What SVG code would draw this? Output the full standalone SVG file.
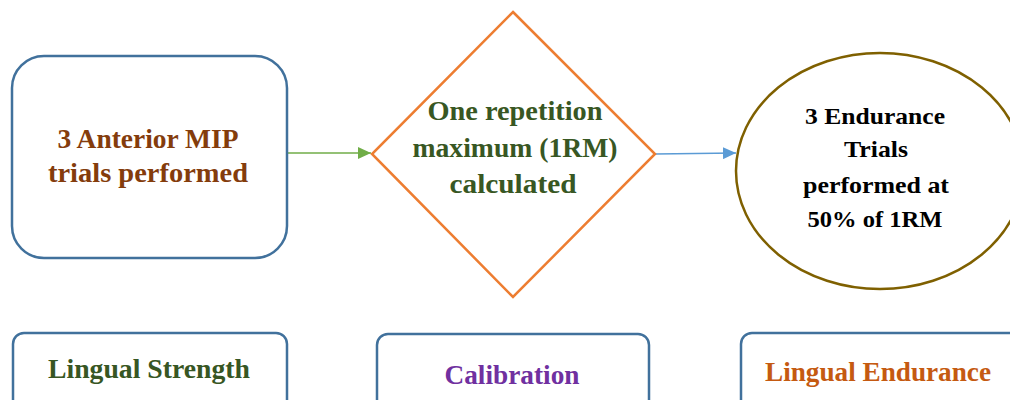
<svg xmlns="http://www.w3.org/2000/svg" width="1010" height="400" viewBox="0 0 1010 400">
<style>
text{font-family:"Liberation Serif","DejaVu Serif",serif;font-weight:bold;text-anchor:middle}
.box{fill:#fff;stroke:#41719C;stroke-width:2.5}
.t1{font-size:28px;fill:#843C0C}
.t2{font-size:27px;fill:#385723}
.t3{font-size:24px;fill:#000}
.b{font-size:28px}
.conn{fill:none;stroke-width:1.5}
</style>
<defs>
<marker id="ag" viewBox="0 0 10 10" refX="10" refY="5" markerWidth="13" markerHeight="12" markerUnits="userSpaceOnUse" orient="auto" preserveAspectRatio="none"><path d="M0,0L10,5L0,10z" fill="#70AD47"/></marker>
<marker id="ab" viewBox="0 0 10 10" refX="10" refY="5" markerWidth="13" markerHeight="12" markerUnits="userSpaceOnUse" orient="auto" preserveAspectRatio="none"><path d="M0,0L10,5L0,10z" fill="#5B9BD5"/></marker>
</defs>
<rect width="1010" height="400" fill="#fff"/>
<g id="connectors">
<line class="conn" x1="288" y1="153" x2="371" y2="153" stroke="#70AD47" marker-end="url(#ag)"/>
<line class="conn" x1="655" y1="154" x2="736" y2="153" stroke="#5B9BD5" marker-end="url(#ab)"/>
</g>
<g id="node-mip">
<rect class="box" x="12" y="56" width="275" height="202" rx="32"/>
<text class="t1" x="148" y="148" textLength="181" lengthAdjust="spacingAndGlyphs">3 Anterior MIP</text>
<text class="t1" x="148" y="182" textLength="200" lengthAdjust="spacingAndGlyphs">trials performed</text>
</g>
<g id="node-1rm">
<polygon points="513,12 655,154 513,297 372,154" fill="#fff" stroke="#ED7D31" stroke-width="2.5"/>
<text class="t2" x="515" y="120" textLength="175" lengthAdjust="spacingAndGlyphs">One repetition</text>
<text class="t2" x="515" y="157" textLength="205" lengthAdjust="spacingAndGlyphs">maximum (1RM)</text>
<text class="t2" x="513" y="193" textLength="127" lengthAdjust="spacingAndGlyphs">calculated</text>
</g>
<g id="node-endurance">
<ellipse cx="880" cy="171" rx="144" ry="118" fill="#fff" stroke="#7F6000" stroke-width="2.5"/>
<text class="t3" x="875" y="124" textLength="140" lengthAdjust="spacingAndGlyphs">3 Endurance</text>
<text class="t3" x="876" y="157" textLength="64" lengthAdjust="spacingAndGlyphs">Trials</text>
<text class="t3" x="876" y="193" textLength="146" lengthAdjust="spacingAndGlyphs">performed at</text>
<text class="t3" x="875" y="227" textLength="135" lengthAdjust="spacingAndGlyphs">50% of 1RM</text>
</g>
<g id="label-strength">
<rect class="box" x="13" y="333" width="274" height="90" rx="11"/>
<text class="b" x="149" y="378" fill="#375623" textLength="202" lengthAdjust="spacingAndGlyphs">Lingual Strength</text>
</g>
<g id="label-calibration">
<rect class="box" x="377" y="334" width="272" height="90" rx="11"/>
<text class="b" x="512" y="384" fill="#7030A0" textLength="135" lengthAdjust="spacingAndGlyphs">Calibration</text>
</g>
<g id="label-endurance">
<rect class="box" x="741" y="333" width="290" height="90" rx="11"/>
<text class="b" x="878" y="381" fill="#C55A11" textLength="226" lengthAdjust="spacingAndGlyphs">Lingual Endurance</text>
</g>
</svg>
